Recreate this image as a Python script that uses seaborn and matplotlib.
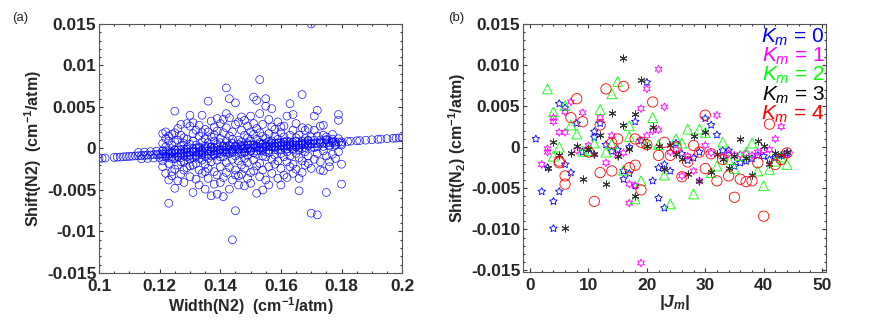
import numpy as np
import pandas as pd
import matplotlib
matplotlib.use("Agg")
import matplotlib.pyplot as plt
from matplotlib.ticker import MultipleLocator
import seaborn as sns

# -------------------------
# Data (shift values in units of 1e-3 cm-1/atm)
# -------------------------
# (a) points that sit on the fitted line
line_width = [0.100, 0.101, 0.102, 0.105, 0.106, 0.107, 0.108, 0.109, 0.110, 0.111,
              0.112, 0.113, 0.114, 0.115, 0.116, 0.117, 0.118, 0.119, 0.120, 0.121,
              0.122, 0.123, 0.124, 0.125, 0.126, 0.127, 0.128, 0.129, 0.130, 0.131,
              0.132, 0.133, 0.134, 0.135, 0.136, 0.137, 0.138, 0.139, 0.140, 0.141,
              0.142, 0.143, 0.144, 0.145, 0.146, 0.147, 0.148, 0.149, 0.150, 0.151,
              0.152, 0.153, 0.154, 0.155, 0.156, 0.157, 0.158, 0.159, 0.160, 0.161,
              0.162, 0.163, 0.164, 0.165, 0.166, 0.167, 0.168, 0.169, 0.170, 0.171,
              0.172, 0.173, 0.174, 0.175, 0.176, 0.177, 0.178, 0.179, 0.180, 0.182,
              0.183, 0.185, 0.186, 0.188, 0.190, 0.192, 0.193, 0.195, 0.197, 0.198,
              0.199, 0.200]
line_shift = [-1.20, -1.18, -1.15, -1.08, -1.05, -1.03, -1.00, -0.98, -0.95, -0.93,
              -0.90, -0.88, -0.85, -0.83, -0.80, -0.78, -0.75, -0.73, -0.70, -0.68,
              -0.65, -0.63, -0.60, -0.58, -0.55, -0.53, -0.50, -0.48, -0.45, -0.43,
              -0.40, -0.38, -0.35, -0.33, -0.30, -0.28, -0.25, -0.23, -0.20, -0.18,
              -0.15, -0.13, -0.10, -0.08, -0.05, -0.03, 0.00, 0.03, 0.05, 0.08,
              0.10, 0.13, 0.15, 0.18, 0.20, 0.23, 0.25, 0.28, 0.30, 0.33,
              0.35, 0.38, 0.40, 0.43, 0.45, 0.48, 0.50, 0.53, 0.55, 0.58,
              0.60, 0.63, 0.65, 0.68, 0.70, 0.73, 0.75, 0.78, 0.80, 0.85,
              0.88, 0.93, 0.95, 1.00, 1.05, 1.10, 1.13, 1.18, 1.23, 1.25,
              1.28, 1.30]

# (a) dense band just above and below the line
band_width = [0.113, 0.115, 0.117, 0.119, 0.121, 0.123, 0.125, 0.127, 0.129, 0.131,
              0.133, 0.135, 0.137, 0.139, 0.141, 0.143, 0.145, 0.147, 0.149, 0.151,
              0.153, 0.155, 0.157, 0.159, 0.161, 0.163, 0.165, 0.167, 0.169, 0.171,
              0.173, 0.175, 0.177, 0.179,
              0.114, 0.116, 0.118, 0.120, 0.122, 0.124, 0.126, 0.128, 0.130, 0.132,
              0.134, 0.136, 0.138, 0.140, 0.142, 0.144, 0.146, 0.148, 0.150, 0.152,
              0.154, 0.156, 0.158, 0.160, 0.162, 0.164, 0.166, 0.168, 0.170, 0.172,
              0.174, 0.176, 0.178, 0.180]
band_shift = [-0.48, -0.43, -0.38, -0.33, -0.28, -0.23, -0.18, -0.13, -0.08, -0.03,
              0.03, 0.08, 0.13, 0.18, 0.23, 0.28, 0.33, 0.38, 0.43, 0.48,
              0.53, 0.58, 0.63, 0.68, 0.73, 0.78, 0.83, 0.88, 0.93, 0.98,
              1.03, 1.08, 1.13, 1.18,
              -1.25, -1.20, -1.15, -1.10, -1.05, -1.00, -0.95, -0.90, -0.85, -0.80,
              -0.75, -0.70, -0.65, -0.60, -0.55, -0.50, -0.45, -0.40, -0.35, -0.30,
              -0.25, -0.20, -0.15, -0.10, -0.05, 0.00, 0.05, 0.10, 0.15, 0.20,
              0.25, 0.30, 0.35, 0.40]

# (a) scattered points, grouped by width column
cloud_width = [0.121, 0.122, 0.123, 0.124, 0.125, 0.126, 0.127, 0.128, 0.129, 0.130,
               0.131, 0.132, 0.133, 0.134, 0.135, 0.136, 0.137, 0.138, 0.139, 0.140,
               0.141, 0.142, 0.143, 0.144, 0.145, 0.146, 0.147, 0.148, 0.149, 0.150,
               0.151, 0.152, 0.153, 0.154, 0.155, 0.156, 0.157, 0.158, 0.159, 0.160,
               0.161, 0.162, 0.163, 0.164, 0.165, 0.166, 0.167, 0.168, 0.169, 0.170,
               0.171, 0.172, 0.173, 0.174, 0.175, 0.176, 0.177, 0.178, 0.179, 0.180]
cloud_shift = [
    [1.8, -1.5, -0.3, 0.6, -2.2, -1.0], [2.0, -0.9, 1.2, -3.0, 0.2, -0.4],
    [-6.6, -3.8, 0.9, -1.8, 1.5, -1.1], [1.7, -2.8, -0.4, 0.4, -3.3, -1.2],
    [4.5, -4.8, 1.9, -1.2, -2.5, 0.8, -0.2], [-3.9, 1.0, -0.2, -2.0, 2.4, -1.0],
    [1.6, -1.1, -3.1, 0.3, -0.7, 2.9, -1.6], [-2.6, 0.6, 1.3, -1.6, -4.1, -0.1],
    [3.0, -0.5, -2.3, 1.1, 0.1, -1.0], [4.0, 2.7, -3.4, -1.3, 0.5, -0.8, -2.1],
    [-5.3, 3.1, -2.0, 1.8, -0.3, 0.9, -1.1], [2.2, -1.0, -3.7, 0.4, -1.8, 0.0],
    [2.8, -4.4, 1.5, -0.6, -2.6, 0.2, -1.2], [4.0, -1.4, 0.8, -3.0, 1.9, -0.2, -0.7],
    [-4.9, 2.3, -1.9, 0.3, 1.2, -0.9, -2.8], [5.7, -3.6, 0.7, -1.2, 2.0, -2.4, 0.2],
    [-5.7, 1.4, -0.4, 3.3, -1.6, 0.2, -0.9], [-4.3, 2.6, -2.8, 0.9, -0.8, 1.6, 0.1],
    [3.6, -5.5, -1.4, 0.5, -3.2, 2.1, -0.6], [-4.1, 1.2, -0.1, -2.2, 3.0, 0.7, -1.0],
    [3.5, -5.8, 1.9, -1.0, 0.3, -3.5, -0.4], [7.3, 4.2, -1.7, 2.5, -0.4, 0.9, -2.9, 0.2],
    [6.0, -4.9, 1.5, -0.6, 3.7, -2.3, 0.4], [-11.0, 2.0, -1.3, 0.6, -3.8, 1.1, -0.3],
    [-7.5, 5.5, -2.6, 0.2, 2.9, -0.9, -3.2], [3.2, -3.3, 1.0, -1.5, 0.5, -4.4, -0.2],
    [3.8, -2.0, 0.8, 2.2, -0.6, -3.1, 0.3], [-4.5, 1.6, -1.2, 3.4, 0.3, -2.4, -0.5],
    [2.7, -0.8, -3.6, 1.3, 0.6, -1.7, 0.0], [3.9, -2.9, 0.9, -0.3, 2.0, -4.2, 0.4],
    [6.2, -1.4, 1.7, 0.4, -2.7, 3.0, -0.5], [5.8, -5.4, 1.1, -0.7, 2.4, -2.1, 0.3],
    [8.3, 4.2, -1.8, 0.7, -3.4, 1.9, -0.2], [-5.0, 2.9, -0.9, 0.5, 1.5, -2.6, 0.1],
    [6.0, 5.1, -3.8, 1.2, -1.0, 0.3, -0.4], [3.5, -2.2, 0.8, -4.4, 1.8, -0.5, 0.5],
    [2.6, -1.3, 0.9, -3.0, 4.8, 0.2], [-1.9, 1.5, 0.2, 2.3, -0.8, 0.6],
    [3.2, -3.6, 0.6, -1.5, 1.1, -0.2], [-4.4, 1.9, -0.6, 0.4, 2.6, -2.4, 0.7],
    [2.7, -1.0, 0.8, -3.2, 1.4, 0.1], [-3.5, 0.9, 3.9, -1.6, 0.3, -0.4],
    [5.4, -2.2, 1.6, 0.5, -0.9, 0.2], [4.1, -1.9, 0.7, 2.2, -3.0, -0.2],
    [1.3, -0.6, -2.5, 0.9, 3.0, 0.2], [-5.1, -3.6, 1.6, -1.1, 0.4, -0.2],
    [6.5, -2.9, 2.5, 0.6, -1.5, 0.0], [2.2, -0.4, 1.2, -2.0, 0.7],
    [-1.8, 2.4, 0.3, -0.9, 1.0], [15.0, -7.8, 1.4, -2.4, 0.6],
    [3.9, -1.3, 2.2, 0.1], [-8.0, 4.6, -0.6, 1.5], [2.7, -1.6, 0.8, -2.6],
    [2.8, -2.7, 1.6, -0.3], [-5.3, -0.9, 1.0, 1.4], [-1.6, 0.4, -2.2],
    [0.9, -0.7, 1.7], [-1.2, 0.5], [4.1, 3.4, -0.4], [-4.3, -1.9, 0.6]]

# (b) shift vs |Jm| for each Km
j_k0 = [1, 2, 3, 4, 4, 5, 5, 6, 6, 7, 8, 9, 10, 11, 11, 12, 13, 14, 15, 16,
        16, 17, 17, 18, 18, 19, 20, 21, 22, 22, 23, 23, 24, 25, 26, 27, 28, 29, 30, 31,
        32, 33, 34, 35, 36, 37, 38, 39, 40, 41, 42, 43, 44]
s_k0 = [1.0, -5.4, -2.5, -6.6, -9.9, 5.3, -5.4, 4.8, -2.1, -3.1, 2.9, -0.6, -0.2, 1.9, 1.2, 2.9, 0.3, -0.5, -0.3, -2.9,
        -3.9, -3.2, 0.0, 3.1, -4.7, 0.8, 7.9, -4.1, -6.2, -2.5, -7.4, -2.1, -2.9, 0.5, -0.8, -1.6, -1.3, -0.6, 3.5, 2.7,
        1.5, -0.4, -0.4, -2.3, -1.9, -1.7, -1.4, -1.0, -1.1, -1.5, -1.3, -1.0, -0.7]

j_k1 = [2, 3, 3, 4, 4, 5, 6, 6, 7, 8, 9, 10, 11, 12, 13, 14, 15, 16, 17, 17,
        18, 19, 19, 20, 20, 21, 22, 22, 23, 24, 25, 26, 27, 28, 29, 30, 31, 32, 33, 34,
        35, 36, 37, 38, 39, 40, 41, 42, 43, 44]
s_k1 = [-2.1, -0.2, -0.6, 3.6, 3.1, 1.8, 4.3, 1.8, 5.5, -0.4, 4.2, 0.2, -0.9, 3.6, -1.9, 1.4, -1.0, -0.7, -4.5, -6.8,
        -4.7, 4.7, -14.1, 7.1, 1.4, 2.0, 9.5, 2.1, 4.9, -0.6, -0.3, -3.5, -1.1, -2.9, -4.1, 0.2, -0.7, 3.9, -1.2, -0.8,
        -1.0, -0.9, -0.8, -1.0, -0.6, -0.4, -0.3, 1.0, 2.5, -0.9]

j_k2 = [3, 4, 4, 5, 6, 7, 8, 9, 10, 11, 12, 13, 14, 14, 15, 16, 17, 17, 18, 19,
        20, 21, 22, 23, 24, 25, 26, 27, 28, 29, 30, 31, 32, 33, 34, 35, 36, 37, 38, 39,
        40, 41, 42, 43, 44]
s_k2 = [7.1, 4.3, -1.1, 0.0, 5.1, 2.7, 1.6, -0.5, -0.4, 0.5, 4.6, -0.6, 0.4, 6.5, 8.0, -2.8, 2.6, 1.3, -6.3, -4.1,
        0.5, 3.6, 0.3, -3.4, -6.9, 1.0, 0.5, 2.2, -5.7, 2.2, 1.8, -3.1, -2.3, 0.6, -1.5, -2.6, -1.0, -0.6, 0.5, -2.9,
        -4.7, -2.7, -1.7, -1.2, -2.1]

j_k3 = [3, 4, 5, 6, 7, 8, 9, 10, 11, 12, 13, 14, 15, 16, 16, 17, 18, 18, 19, 20,
        21, 22, 23, 24, 25, 26, 27, 28, 29, 30, 31, 32, 33, 34, 35, 36, 37, 38, 39, 40,
        41, 42, 43, 44]
s_k3 = [-2.5, 0.6, -1.0, -9.9, -0.7, 0.2, -3.9, -0.2, -0.8, 1.5, -4.5, 4.2, -1.1, 10.9, 2.7, -0.2, 4.0, -5.9, 8.2, 0.2,
        2.4, 0.2, -2.7, 0.3, -0.8, -1.4, -3.3, 1.4, -4.1, 1.8, -3.0, -0.8, -1.5, -2.5, -1.1, 1.0, -1.3, -3.4, 0.8, 0.1,
        -2.1, -0.7, -1.0, -0.6]

j_k4 = [5, 5, 6, 6, 7, 8, 9, 10, 11, 12, 12, 13, 14, 14, 15, 16, 17, 18, 18, 19,
        19, 20, 21, 22, 23, 24, 25, 26, 27, 28, 29, 30, 30, 31, 32, 33, 34, 35, 36, 37,
        38, 39, 40, 41, 42, 43, 44]
s_k4 = [-1.7, -1.9, -3.5, -4.5, 3.6, 5.9, 3.1, -0.6, -6.6, 2.7, -3.1, 7.1, 0.5, -2.9, 1.0, 7.4, -2.5, 1.0, -2.2, -5.2,
        0.6, 0.3, 5.5, -1.0, 0.6, -1.0, 0.0, -3.6, -1.8, 0.2, -0.6, 3.9, -2.6, -0.8, -4.1, -1.5, -3.5, -6.1, -3.9, -4.2,
        -4.1, -1.9, -8.4, 2.8, -2.1, -1.5, -0.7]

k_labels = ["0", "1", "2", "3", "4"]
k_colors = ["#0000ff", "#ff00ff", "#00ff00", "#000000", "#ff0000"]

# -------------------------
# Style
# -------------------------
sns.set_style("ticks")
plt.rcParams["font.family"] = ["Liberation Sans", "DejaVu Sans"]
plt.rcParams["mathtext.fontset"] = "custom"
plt.rcParams["mathtext.rm"] = "Liberation Sans"
plt.rcParams["mathtext.it"] = "Liberation Sans:italic"
plt.rcParams["mathtext.bf"] = "Liberation Sans:bold"
plt.rcParams["mathtext.bfit"] = "Liberation Sans:italic:bold"

fig = plt.figure(figsize=(8.71, 3.2), dpi=100)
ax1 = fig.add_axes([0.1137, 0.147, 0.348, 0.778])
ax2 = fig.add_axes([0.6005, 0.150, 0.348, 0.775])

# -------------------------
# Panel (a)
# -------------------------
df_line = pd.DataFrame({"width": line_width + band_width,
                        "shift": np.array(line_shift + band_shift) * 1e-3})
df_cloud = pd.DataFrame({
    "width": np.repeat(cloud_width, [len(c) for c in cloud_shift]),
    "shift": np.concatenate(cloud_shift) * 1e-3,
})
df_a = pd.concat([df_cloud, df_line], ignore_index=True)
sns.scatterplot(data=df_a, x="width", y="shift", ax=ax1, marker="o", s=32,
                facecolor="none", edgecolor="#0000ff", linewidth=0.45, legend=False)

ax1.set_xlim(0.1, 0.2)
ax1.set_ylim(-0.015, 0.015)
ax1.set_xticks([0.1, 0.12, 0.14, 0.16, 0.18, 0.2])
ax1.set_xticklabels(["0.1", "0.12", "0.14", "0.16", "0.18", "0.2"])
ax1.set_yticks([-0.015, -0.01, -0.005, 0, 0.005, 0.01, 0.015])
ax1.set_yticklabels(["-0.015", "-0.01", "-0.005", "0", "0.005", "0.01", "0.015"])
ax1.xaxis.set_minor_locator(MultipleLocator(0.005))
ax1.yaxis.set_minor_locator(MultipleLocator(0.001))
ax1.set_xlabel(r"Width(N2)  (cm$^{\mathbf{-1}}$/atm)", fontweight="bold", fontsize=11.5, labelpad=1)
ax1.set_ylabel(r"Shift(N2)  (cm$^{\mathbf{-1}}$/atm)", fontweight="bold", fontsize=11.5, labelpad=2)
fig.text(0.014, 0.935, "(a)", fontsize=9.5)

# -------------------------
# Panel (b)
# -------------------------
series = [(j_k0, s_k0, (5, 1, 0), 32, 0.6),
          (j_k1, s_k1, (6, 1, 0), 32, 0.6),
          (j_k2, s_k2, "^", 50, 0.6),
          (j_k3, s_k3, (6, 2, 0), 26, 0.7),
          (j_k4, s_k4, "o", 55, 0.6)]
for (jj, ss, mk, sz, lw), col in zip(series, k_colors):
    d = pd.DataFrame({"J": jj, "shift": np.array(ss) * 1e-3})
    if mk == (6, 2, 0):
        sns.scatterplot(data=d, x="J", y="shift", ax=ax2, marker=mk, s=sz,
                        color="#333333", linewidth=lw, legend=False)
    else:
        sns.scatterplot(data=d, x="J", y="shift", ax=ax2, marker=mk, s=sz,
                        facecolor="none", edgecolor=col, linewidth=lw, legend=False)

ax2.set_xlim(-1.2, 50.7)
ax2.set_ylim(-0.0152, 0.015)
ax2.set_xticks([0, 10, 20, 30, 40, 50])
ax2.set_yticks([-0.015, -0.01, -0.005, 0, 0.005, 0.01, 0.015])
ax2.set_yticklabels(["-0.015", "-0.010", "-0.005", "0", "0.005", "0.010", "0.015"])
ax2.xaxis.set_minor_locator(MultipleLocator(2))
ax2.yaxis.set_minor_locator(MultipleLocator(0.001))
ax2.set_xlabel(r"|$\mathbfit{J}_{\mathbfit{m}}$|", fontweight="bold", fontsize=12.5, labelpad=0)
ax2.set_ylabel(r"Shift(N$_{\mathbf{2}}$) (cm$^{\mathbf{-1}}$/atm)", fontweight="bold", fontsize=11.5, labelpad=2)
fig.text(0.514, 0.935, "(b)", fontsize=9.5)

for i, (lab, col) in enumerate(zip(k_labels, k_colors)):
    ax2.text(0.995, 0.945 - i * 0.077, r"$\mathit{K}_{\mathit{m}}$ = " + lab, color=col,
             fontsize=15, ha="right", va="center", transform=ax2.transAxes)

for ax in (ax1, ax2):
    ax.tick_params(which="both", direction="in", top=True, right=True,
                   labelsize=12.5, color="#333333", width=0.8, pad=2)
    ax.tick_params(axis="x", which="major", pad=4)
    ax.tick_params(which="major", length=3)
    ax.tick_params(which="minor", length=1.5)
    for lab in ax.get_xticklabels() + ax.get_yticklabels():
        lab.set_fontweight("bold")
    for sp in ax.spines.values():
        sp.set_visible(True)
        sp.set_color("#555555")
        sp.set_linewidth(0.8)

fig.savefig("out.png", dpi=100)
